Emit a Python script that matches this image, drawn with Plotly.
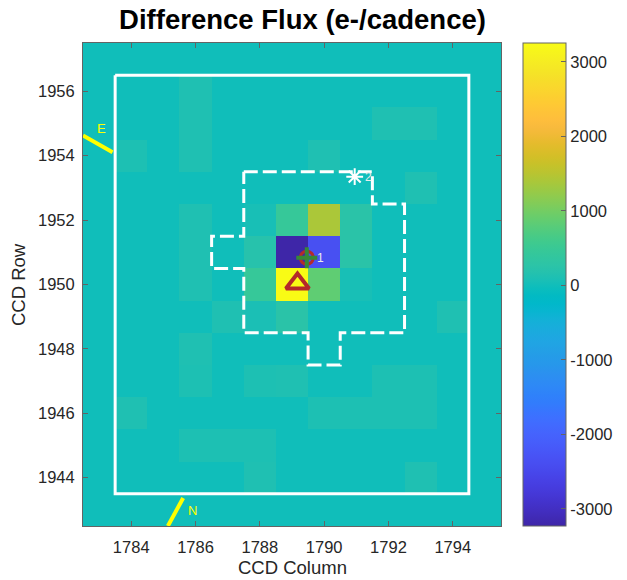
import plotly.graph_objects as go

# CCD pixel grid
columns = list(range(1783, 1796))   # 13 columns
rows = list(range(1943, 1958))      # 15 rows

# Difference flux per pixel (e-/cadence); pixels not listed are 0
flux_pixels = {
    (1956, 1786): 120,
    (1955, 1786): 120, (1955, 1792): 120, (1955, 1793): 120,
    (1954, 1784): 100, (1954, 1786): 120, (1954, 1790): 120,
    (1953, 1793): 120,
    (1952, 1786): 120, (1952, 1788): 60, (1952, 1789): 450, (1952, 1790): 1400, (1952, 1791): 250,
    (1951, 1786): 120, (1951, 1788): 200, (1951, 1789): -3230, (1951, 1790): -2350, (1951, 1791): 250,
    (1950, 1786): 120, (1950, 1788): 450, (1950, 1789): 3255, (1950, 1790): 850, (1950, 1791): 60,
    (1949, 1787): 120, (1949, 1788): 80, (1949, 1789): 250, (1949, 1794): 120,
    (1948, 1786): 120,
    (1947, 1786): 100, (1947, 1788): 100, (1947, 1789): 120, (1947, 1792): 100, (1947, 1793): 100,
    (1946, 1784): 120, (1946, 1790): 100, (1946, 1791): 100, (1946, 1792): 100, (1946, 1793): 100,
    (1945, 1786): 100, (1945, 1787): 100, (1945, 1788): 100,
    (1944, 1788): 120, (1944, 1793): 120,
}
flux = [[flux_pixels.get((r, c), 0) for c in columns] for r in rows]

# Pixel mask outline
mask_x = [1783.5, 1794.5, 1794.5, 1783.5, 1783.5]
mask_y = [1956.5, 1956.5, 1943.5, 1943.5, 1956.5]

# Optimal aperture outline
aperture_x = [1787.5, 1791.5, 1791.5, 1792.5, 1792.5, 1790.5, 1790.5, 1789.5,
              1789.5, 1787.5, 1787.5, 1786.5, 1786.5, 1787.5, 1787.5]
aperture_y = [1953.5, 1953.5, 1952.5, 1952.5, 1948.5, 1948.5, 1947.5, 1947.5,
              1948.5, 1948.5, 1950.5, 1950.5, 1951.5, 1951.5, 1953.5]

# Catalogue stars
star_x = [1789.46, 1790.95]
star_y = [1950.83, 1953.35]
star_labels = ["1", "2"]

# Difference-image centroid
centroid_x = [1789.17]
centroid_y = [1950.03]

# Compass arrows (East, North)
east_x = [1782.5, 1783.42]
east_y = [1954.63, 1954.11]
east_label = (1783.09, 1954.85, "E")
north_x = [1785.14, 1785.615]
north_y = [1942.5, 1943.37]
north_label = (1785.91, 1942.97, "N")

cbar_ticks = [-3000, -2000, -1000, 0, 1000, 2000, 3000]
cbar_text = ["-3000", "-2000", "-1000", "0", "1000", "2000", "3000"]
x_ticks = [1784, 1786, 1788, 1790, 1792, 1794]
y_ticks = [1944, 1946, 1948, 1950, 1952, 1954, 1956]

parula = [
    (0.2422, 0.1504, 0.6603), (0.2504, 0.1650, 0.7076), (0.2578, 0.1818, 0.7511), (0.2647, 0.1978, 0.7952),
    (0.2706, 0.2147, 0.8364), (0.2751, 0.2342, 0.8710), (0.2783, 0.2559, 0.8991), (0.2803, 0.2782, 0.9221),
    (0.2813, 0.3006, 0.9414), (0.2810, 0.3228, 0.9579), (0.2795, 0.3447, 0.9717), (0.2760, 0.3667, 0.9829),
    (0.2699, 0.3892, 0.9906), (0.2602, 0.4123, 0.9952), (0.2440, 0.4358, 0.9988), (0.2206, 0.4603, 0.9973),
    (0.1963, 0.4847, 0.9892), (0.1834, 0.5074, 0.9798), (0.1786, 0.5289, 0.9682), (0.1764, 0.5499, 0.9520),
    (0.1687, 0.5703, 0.9359), (0.1540, 0.5902, 0.9218), (0.1460, 0.6091, 0.9079), (0.1380, 0.6276, 0.8973),
    (0.1248, 0.6459, 0.8883), (0.1113, 0.6635, 0.8763), (0.0952, 0.6798, 0.8598), (0.0689, 0.6948, 0.8394),
    (0.0297, 0.7082, 0.8163), (0.0036, 0.7203, 0.7917), (0.0067, 0.7312, 0.7660), (0.0433, 0.7411, 0.7394),
    (0.0964, 0.7500, 0.7120), (0.1408, 0.7584, 0.6842), (0.1717, 0.7670, 0.6554), (0.1938, 0.7758, 0.6251),
    (0.2161, 0.7843, 0.5923), (0.2470, 0.7918, 0.5567), (0.2906, 0.7973, 0.5188), (0.3406, 0.8008, 0.4789),
    (0.3909, 0.8029, 0.4354), (0.4456, 0.8024, 0.3909), (0.5044, 0.7993, 0.3480), (0.5616, 0.7942, 0.3045),
    (0.6174, 0.7876, 0.2612), (0.6720, 0.7793, 0.2227), (0.7242, 0.7698, 0.1910), (0.7738, 0.7598, 0.1646),
    (0.8203, 0.7498, 0.1535), (0.8634, 0.7406, 0.1596), (0.9035, 0.7330, 0.1774), (0.9393, 0.7288, 0.2100),
    (0.9728, 0.7298, 0.2394), (0.9956, 0.7434, 0.2371), (0.9970, 0.7659, 0.2199), (0.9952, 0.7893, 0.2028),
    (0.9892, 0.8136, 0.1885), (0.9786, 0.8386, 0.1766), (0.9676, 0.8639, 0.1643), (0.9610, 0.8890, 0.1537),
    (0.9597, 0.9135, 0.1423), (0.9628, 0.9373, 0.1265), (0.9691, 0.9606, 0.1064), (0.9769, 0.9839, 0.0805),
]
n = len(parula)
colorscale = [[i / (n - 1), "rgb(%d,%d,%d)" % tuple(round(v * 255) for v in c)] for i, c in enumerate(parula)]

FONT = "Liberation Sans, Arial, Helvetica, sans-serif"
TXT = "rgb(38,38,38)"
FRAME = "rgb(100,100,100)"
RED = "rgb(180,42,42)"
GREEN = "rgb(55,135,55)"
YELLOW = "rgb(255,255,0)"

fig = go.Figure()

fig.add_trace(go.Heatmap(
    x=columns, y=rows, z=flux,
    colorscale=colorscale, zmin=-3230, zmax=3255,
    colorbar=dict(
        x=1.052, xanchor="left", xpad=0, y=0.5, yanchor="middle", ypad=0,
        len=1, lenmode="fraction", thickness=43, thicknessmode="pixels",
        tickvals=cbar_ticks, ticktext=cbar_text, ticks="inside", ticklen=5, tickcolor=FRAME,
        outlinecolor=FRAME, outlinewidth=1,
        tickfont=dict(family=FONT, size=16.5, color=TXT),
    ),
    hoverinfo="skip",
))

fig.add_trace(go.Scatter(x=mask_x, y=mask_y, mode="lines",
                         line=dict(color="white", width=3), hoverinfo="skip"))
fig.add_trace(go.Scatter(x=aperture_x, y=aperture_y, mode="lines",
                         line=dict(color="white", width=3, dash="14px,5px"), hoverinfo="skip"))

fig.add_trace(go.Scatter(x=east_x, y=east_y, mode="lines",
                         line=dict(color=YELLOW, width=4), hoverinfo="skip"))
fig.add_trace(go.Scatter(x=north_x, y=north_y, mode="lines",
                         line=dict(color=YELLOW, width=4), hoverinfo="skip"))

# Target star 1: red ring under a green cross; star 2: white asterisk
fig.add_trace(go.Scatter(x=star_x[:1], y=star_y[:1], mode="markers",
                         marker=dict(symbol="circle-open", size=13, color=RED,
                                     line=dict(width=3, color=RED)),
                         hoverinfo="skip"))
fig.add_trace(go.Scatter(x=star_x[:1], y=star_y[:1], mode="markers",
                         marker=dict(symbol="cross-thin-open", size=15, color=GREEN,
                                     line=dict(width=4, color=GREEN)),
                         hoverinfo="skip"))
fig.add_trace(go.Scatter(x=star_x[1:], y=star_y[1:], mode="markers",
                         marker=dict(symbol="asterisk-open", size=14, color="white",
                                     line=dict(width=2, color="white")),
                         hoverinfo="skip"))

fig.add_trace(go.Scatter(x=centroid_x, y=centroid_y, mode="markers",
                         marker=dict(symbol="triangle-up-open", size=20, color=RED,
                                     line=dict(width=4, color=RED)),
                         hoverinfo="skip"))

for sx, sy, st in zip(star_x, star_y, star_labels):
    fig.add_annotation(x=sx, y=sy, text=st, showarrow=False, xanchor="left", xshift=8,
                       font=dict(family=FONT, size=12, color="rgb(235,235,235)"))

for lx, ly, lt in (east_label, north_label):
    fig.add_annotation(x=lx, y=ly, text=lt, showarrow=False,
                       font=dict(family=FONT, size=13, color=YELLOW))

# Axis titles
fig.add_annotation(text="CCD Column", xref="paper", yref="paper", x=0.5, y=1 - (567 - 43) / 483,
                   xanchor="center", yanchor="middle", showarrow=False,
                   font=dict(family=FONT, size=18.5, color=TXT))
fig.add_annotation(text="CCD Row", xref="paper", yref="paper", x=(18 - 83) / 418, y=1 - (285 - 43) / 483,
                   xanchor="center", yanchor="middle", textangle=-90, showarrow=False,
                   font=dict(family=FONT, size=18.5, color=TXT))

axis_common = dict(
    showgrid=False, zeroline=False, showline=True, linecolor=FRAME, linewidth=1,
    mirror="allticks", ticks="inside", ticklen=5, tickcolor=FRAME, automargin=False,
    tickfont=dict(family=FONT, size=16.5, color=TXT),
)
fig.update_xaxes(range=[1782.5, 1795.5], tickvals=x_ticks, ticklabelstandoff=6, **axis_common)
fig.update_yaxes(range=[1942.5, 1957.5], tickvals=y_ticks, ticklabelstandoff=4, **axis_common)

fig.update_layout(
    width=627, height=580,
    margin=dict(l=83, r=126, t=43, b=54, autoexpand=False),
    paper_bgcolor="white", plot_bgcolor="white",
    showlegend=False,
    title=dict(text="<b>Difference Flux (e-/cadence)</b>", x=(302.5 - 83) / 418, xref="paper",
               xanchor="center", y=1 - 19 / 580, yref="container", yanchor="middle",
               font=dict(family=FONT, size=27.5, color="black")),
)

fig.write_html("out.html")
